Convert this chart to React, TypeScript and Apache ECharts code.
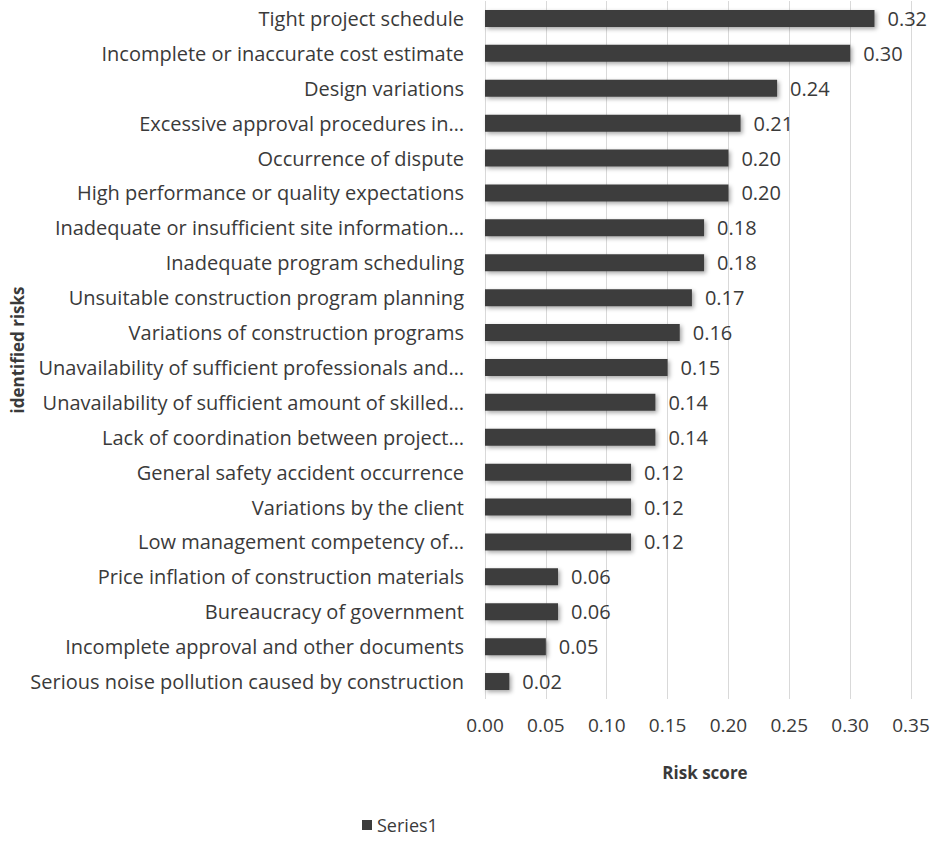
import React, { useEffect, useRef } from "react";
import * as echarts from "echarts";

const categories = [
  "Tight project schedule",
  "Incomplete or inaccurate cost estimate",
  "Design variations",
  "Excessive approval procedures in…",
  "Occurrence of dispute",
  "High performance or quality expectations",
  "Inadequate or insufficient site information…",
  "Inadequate program scheduling",
  "Unsuitable construction program planning",
  "Variations of construction programs",
  "Unavailability of sufficient professionals and…",
  "Unavailability of sufficient amount of skilled…",
  "Lack of coordination between project…",
  "General safety accident occurrence",
  "Variations by the client",
  "Low management competency of…",
  "Price inflation of construction materials",
  "Bureaucracy of government",
  "Incomplete approval and other documents",
  "Serious noise pollution caused by construction",
];

const values = [0.32, 0.30, 0.24, 0.21, 0.20, 0.20, 0.18, 0.18, 0.17, 0.16, 0.15, 0.14, 0.14, 0.12, 0.12, 0.12, 0.06, 0.06, 0.05, 0.02];

const seriesName = "Series1";
const xAxisTitle = "Risk score";
const yAxisTitle = "identified risks";

export default function App() {
  const ref = useRef<HTMLDivElement>(null);
  useEffect(() => {
    if (!ref.current) return;
    const chart = echarts.init(ref.current, undefined, { renderer: "svg" });
    const font = "'Open Sans', sans-serif";
    const textColor = "#3a3a3a";
    chart.setOption({
      animation: false,
      backgroundColor: "#ffffff",
      textStyle: { fontFamily: font },
      grid: { left: 485, right: 23, top: 1, bottom: 145, containLabel: false },
      legend: {
        top: 811,
        left: 357,
        icon: "rect",
        itemWidth: 10,
        itemHeight: 10,
        data: [seriesName],
        textStyle: { fontSize: 18, color: textColor, fontFamily: font },
      },
      xAxis: {
        type: "value",
        min: 0,
        max: 0.35,
        interval: 0.05,
        name: xAxisTitle,
        nameLocation: "middle",
        nameGap: 65,
        nameTextStyle: {
          fontSize: 17,
          fontWeight: "bold",
          color: textColor,
          fontFamily: font,
          padding: [0, 0, 0, 14],
        },
        axisLine: { show: false },
        axisTick: { show: false },
        axisLabel: {
          margin: 16,
          fontSize: 19,
          color: textColor,
          fontFamily: font,
          formatter: (v: number) => v.toFixed(2),
        },
        splitLine: { show: true, lineStyle: { color: "#d9d9d9", width: 1 } },
      },
      yAxis: {
        type: "category",
        data: categories,
        inverse: true,
        name: yAxisTitle,
        nameLocation: "middle",
        nameGap: 459,
        nameRotate: 90,
        nameTextStyle: { fontSize: 17, fontWeight: "bold", color: textColor, fontFamily: font },
        axisLine: { show: false },
        axisTick: { show: false },
        axisLabel: { margin: 21, fontSize: 20, color: textColor, fontFamily: font },
      },
      series: [
        {
          name: seriesName,
          type: "bar",
          data: values,
          barWidth: 17,
          itemStyle: {
            color: "#3c3c3c",
            shadowColor: "rgba(0,0,0,0.35)",
            shadowBlur: 4,
            shadowOffsetX: 2,
            shadowOffsetY: 2,
          },
          label: {
            show: true,
            position: "right",
            distance: 13,
            fontSize: 20,
            color: textColor,
            fontFamily: font,
            formatter: (p: any) => Number(p.value).toFixed(2),
          },
        },
      ],
    });
    return () => chart.dispose();
  }, []);
  return <div ref={ref} style={{ position: "absolute", left: 0, top: 0, width: 934, height: 844 }} />;
}
